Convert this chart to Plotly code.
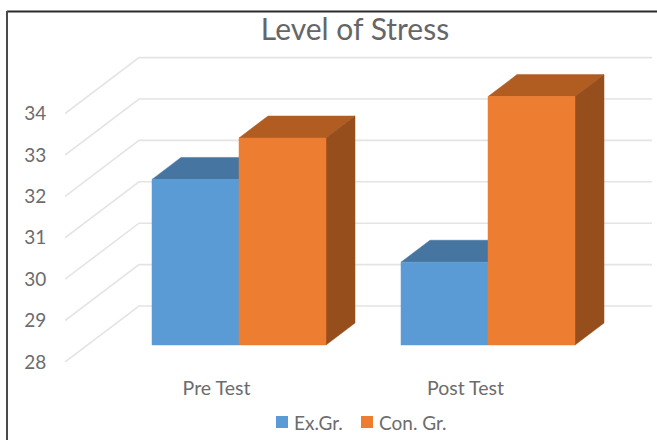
import plotly.graph_objects as go

# --- data ---
categories = ["Pre Test", "Post Test"]
ex_gr = [32, 30]
con_gr = [33, 34]
y_ticks = [28, 29, 30, 31, 32, 33, 34]
series_names = ["Ex.Gr.", "Con. Gr."]

# --- styling ---
W, H = 657, 440
L, R, T, B = 65, 652, 50, 362          # plot area in pixels
PX_PER_CAT = 249.0
PX_PER_UNIT = 41.4
CAT0_PX = 216.5
DEPTH_X = 74 / PX_PER_CAT              # full wall depth in axis units
DEPTH_Y = 56 / PX_PER_UNIT
D_FRONT, D_BACK = 0.304, 0.696         # bar depth inside the wall
BAR_W = 87 / PX_PER_CAT
Y_MIN = y_ticks[0]
FONT = "Lato, Carlito, Calibri, sans-serif"
TXT = "#6c6c6c"
GRID = "#e4e4e4"
COLORS = [
    dict(front="#5B9BD5", top="#4575A0", side="#3E6A92"),
    dict(front="#ED7D31", top="#B15D22", side="#964F1C"),
]

x_range = [(L - CAT0_PX) / PX_PER_CAT, (R - CAT0_PX) / PX_PER_CAT]
y_range = [Y_MIN, Y_MIN + (B - T) / PX_PER_UNIT]


def proj(x, y, d):
    """Oblique projection of (category position, value, depth) onto the axes."""
    return x + d * DEPTH_X, y + d * DEPTH_Y


def face(points, color, name, legendgroup):
    xs, ys = zip(*[proj(*p) for p in points])
    return go.Scatter(
        x=list(xs) + [xs[0]], y=list(ys) + [ys[0]],
        mode="lines", fill="toself", fillcolor=color,
        line=dict(color=color, width=0.5),
        name=name, legendgroup=legendgroup, showlegend=False, hoverinfo="name",
    )


fig = go.Figure()

# walls: each gridline runs from the front edge back to the wall, then across
for v in y_ticks:
    x0, y0 = proj(x_range[0], v, 0)
    x1, y1 = proj(x_range[0], v, 1)
    fig.add_trace(go.Scatter(
        x=[x0, x1, x_range[1]], y=[y0, y1, y1], mode="lines",
        line=dict(color=GRID, width=1.6), showlegend=False, hoverinfo="skip",
    ))

# bars, painter's order: series by series within each category
for c, _ in enumerate(categories):
    for s, values in enumerate((ex_gr, con_gr)):
        v = values[c]
        xl = c + (s - 1) * BAR_W
        xr = xl + BAR_W
        col = COLORS[s]
        nm = series_names[s]
        fig.add_trace(face([(xl, v, D_FRONT), (xl, v, D_BACK), (xr, v, D_BACK), (xr, v, D_FRONT)],
                           col["top"], nm, nm))
        fig.add_trace(face([(xr, Y_MIN, D_FRONT), (xr, Y_MIN, D_BACK), (xr, v, D_BACK), (xr, v, D_FRONT)],
                           col["side"], nm, nm))
        fig.add_trace(face([(xl, Y_MIN, D_FRONT), (xr, Y_MIN, D_FRONT), (xr, v, D_FRONT), (xl, v, D_FRONT)],
                           col["front"], nm, nm))

# legend built by hand: Plotly's swatch-to-text gap is wider than the reference
shapes = [
    dict(type="line", xref="paper", yref="paper", layer="above",
         x0=(7 - L) / (R - L), x1=(W - L) / (R - L),
         y0=(B - 11.5) / (B - T), y1=(B - 11.5) / (B - T),
         line=dict(color="#2a2a2a", width=2)),
    dict(type="line", xref="paper", yref="paper", layer="above",
         x0=(7 - L) / (R - L), x1=(7 - L) / (R - L),
         y0=(B - 11) / (B - T), y1=(B - H) / (B - T),
         line=dict(color="#4a4a4a", width=2)),
]
annotations = []
for name, color, sw_x, txt_x in zip(series_names, (COLORS[0]["front"], COLORS[1]["front"]), (276, 361), (293, 378)):
    shapes.append(dict(type="rect", xref="paper", yref="paper", layer="above",
                       x0=(sw_x - L) / (R - L), x1=(sw_x + 12 - L) / (R - L),
                       y0=(B - 416) / (B - T), y1=(B - 428) / (B - T),
                       fillcolor=color, line=dict(width=0)))
    annotations.append(dict(text=name, xref="paper", yref="paper", showarrow=False,
                            x=(txt_x - L) / (R - L), y=(B - 422) / (B - T),
                            xanchor="left", yanchor="middle", xshift=-1,
                            font=dict(family=FONT, size=19, color=TXT)))

fig.update_layout(
    width=W, height=H, autosize=False,
    margin=dict(l=L, r=W - R, t=T, b=H - B, autoexpand=False),
    paper_bgcolor="white", plot_bgcolor="white", showlegend=False,
    title=dict(text="Level of Stress", xref="paper", yref="container",
               x=(355 - L) / (R - L), xanchor="center",
               y=1 - 29 / H, yanchor="middle",
               font=dict(family=FONT, size=30, color="#666666")),
    xaxis=dict(range=x_range, tickmode="array", tickvals=list(range(len(categories))),
               ticktext=categories, showgrid=False, zeroline=False, showline=False,
               ticks="outside", ticklen=9, tickcolor="rgba(0,0,0,0)",
               tickfont=dict(family=FONT, size=19.5, color=TXT)),
    yaxis=dict(range=y_range, tickmode="array", tickvals=y_ticks,
               showgrid=False, zeroline=False, showline=False,
               ticks="outside", ticklen=14, tickcolor="rgba(0,0,0,0)",
               tickfont=dict(family=FONT, size=19, color=TXT)),
    shapes=shapes, annotations=annotations,
)

# the reference has no page margin around the chart
fig.write_html("out.html", config=dict(displayModeBar=False),
               post_script="document.body.style.margin='0';")
